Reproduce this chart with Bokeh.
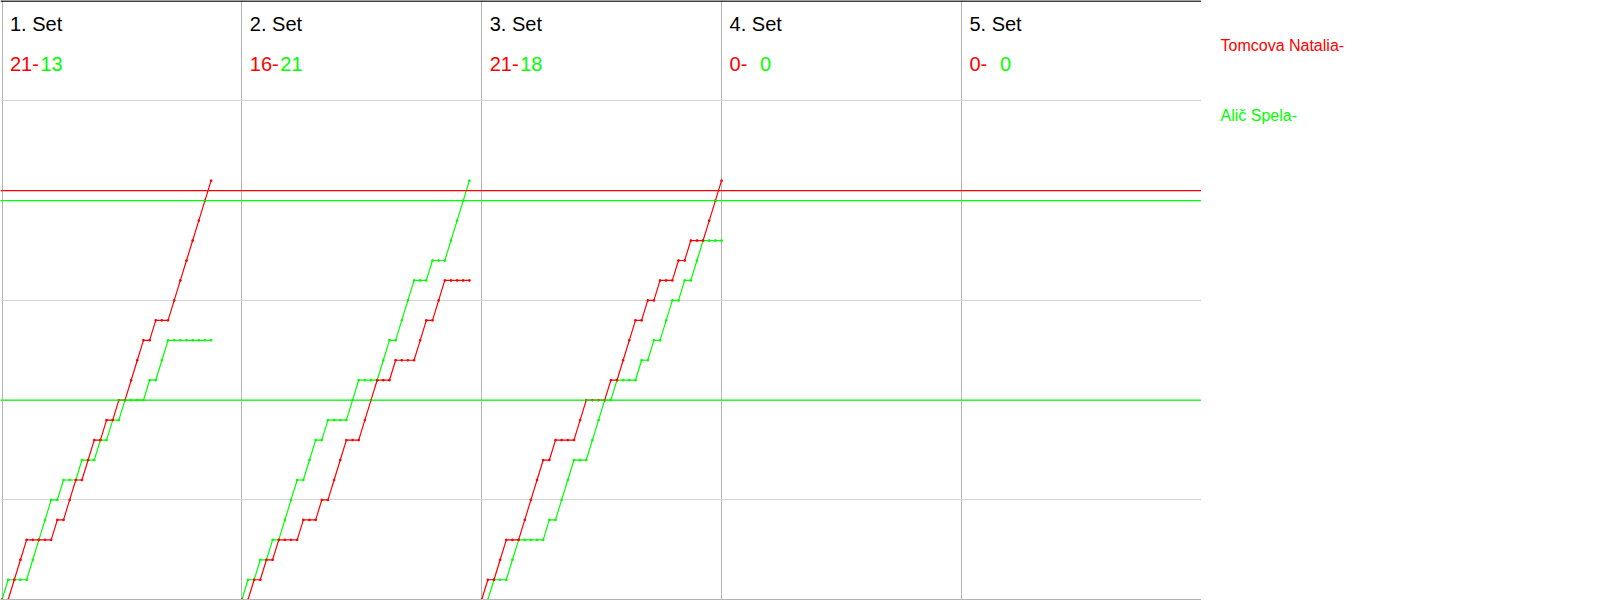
from bokeh.plotting import figure
from bokeh.layouts import row
from bokeh.models import FixedTicker, Span, ColumnDataSource, Range1d
from bokeh.embed import file_html
from bokeh.resources import INLINE
from bokeh.core.properties import value

# ---------------- data ----------------
players = ["Tomcova Natalia", "Alič Spela"]
player_colors = ["#ff0000", "#00ff00"]
set_titles = ["1. Set", "2. Set", "3. Set", "4. Set", "5. Set"]
final_red = [21, 16, 21, 0, 0]
final_green = [13, 21, 18, 0, 0]

# running score after each rally (index 0 = start of set)
set1_red = [0, 0, 1, 2, 3, 3, 3, 3, 3, 4, 4, 5, 6, 6, 7, 8, 8, 9, 9, 10, 10, 11, 12, 13, 13, 14, 14, 14,
            15, 16, 17, 18, 19, 20, 21]
set1_green = [0, 1, 1, 1, 1, 2, 3, 4, 5, 5, 6, 6, 6, 7, 7, 7, 8, 8, 9, 9, 10, 10, 10, 10, 11, 11, 12, 13,
              13, 13, 13, 13, 13, 13, 13]
set2_red = [0, 0, 1, 1, 2, 2, 3, 3, 3, 3, 4, 4, 4, 5, 5, 6, 7, 8, 8, 8, 9, 10, 11, 11, 11, 12, 12, 12, 12,
            13, 14, 14, 15, 16, 16, 16, 16, 16]
set2_green = [0, 1, 1, 2, 2, 3, 3, 4, 5, 6, 6, 7, 8, 8, 9, 9, 9, 9, 10, 11, 11, 11, 11, 12, 13, 13, 14, 15,
              16, 16, 16, 17, 17, 17, 18, 19, 20, 21]
set3_red = [0, 1, 1, 2, 3, 3, 3, 4, 5, 6, 7, 7, 8, 8, 8, 8, 9, 10, 10, 10, 10, 11, 11, 12, 13, 14, 14, 15,
            15, 16, 16, 16, 17, 17, 18, 18, 18, 19, 20, 21]
set3_green = [0, 0, 1, 1, 1, 2, 3, 3, 3, 3, 3, 4, 4, 5, 6, 7, 7, 7, 8, 9, 10, 10, 11, 11, 11, 11, 12, 12,
              13, 13, 14, 15, 15, 16, 16, 17, 18, 18, 18, 18]
red_runs = [set1_red, set2_red, set3_red, [], []]
green_runs = [set1_green, set2_green, set3_green, [], []]

rallies_per_panel = 39
score_max = 30
grid_scores = [5, 10, 15, 20, 25]
ref_levels = [20.5, 20, 10]
ref_colors = ["#ff0000", "#00ff00", "#00ff00"]

# ---------------- layout ----------------
W, H = 1201, 600
LEG_W = 395
n_sets = len(set_titles)
PX_RALLY = 6.15
LEFT_PX = 1.5
x0 = -LEFT_PX / PX_RALLY
x1 = x0 + W / PX_RALLY
y0, y1 = -0.04, score_max + 0.03
px_per_pt = H / (y1 - y0)

p = figure(width=W, height=H, x_range=Range1d(x0, x1), y_range=Range1d(y0, y1),
           output_backend="svg", toolbar_location=None, min_border=0,
           background_fill_color="white", border_fill_color="white")
p.axis.visible = False
p.outline_line_color = None
p.xgrid.ticker = FixedTicker(ticks=[i * rallies_per_panel for i in range(n_sets + 1)])
p.xgrid.grid_line_color = "#b4b4b4"
p.xgrid.grid_line_width = 1
p.ygrid.ticker = FixedTicker(ticks=grid_scores)
p.ygrid.grid_line_color = "#d4d4d4"
p.ygrid.grid_line_width = 1

p.add_layout(Span(location=score_max, dimension="width", line_color="black", line_width=1.5))
p.add_layout(Span(location=0, dimension="width", line_color="#b4b4b4", line_width=1.5))

for lvl, c in zip(ref_levels, ref_colors):
    p.add_layout(Span(location=lvl, dimension="width", line_color=c, line_width=1.3))

for k in range(n_sets):
    off = k * rallies_per_panel
    for runs, c in ((green_runs, player_colors[1]), (red_runs, player_colors[0])):
        ys = runs[k]
        if not ys:
            continue
        xs = [off + i for i in range(len(ys))]
        p.line(xs, ys, line_color=c, line_width=1.2)
        p.scatter(xs, ys, marker="square", size=1.5, color=c)

# titles and scores
def ydata(px_from_top):
    return y1 - px_from_top / px_per_pt

panel_x = [k * rallies_per_panel for k in range(n_sets)]
title_src = ColumnDataSource(dict(x=panel_x, y=[ydata(23)] * n_sets, t=set_titles))
p.text("x", "y", text="t", source=title_src, x_offset=8, text_color="black",
       text_font=value("Liberation Sans"), text_font_size="20px", text_baseline="alphabetic")
red_src = ColumnDataSource(dict(x=panel_x, y=[ydata(63)] * n_sets, t=[f"{r}-" for r in final_red]))
p.text("x", "y", text="t", source=red_src, x_offset=8, text_color=player_colors[0],
       text_font=value("Liberation Sans"), text_font_size="20px", text_baseline="alphabetic")
green_src = ColumnDataSource(dict(x=panel_x, y=[ydata(63)] * n_sets, t=[str(g) for g in final_green]))
p.text("x", "y", text="t", source=green_src, x_offset=38.5, text_color=player_colors[1],
       text_font=value("Liberation Sans"), text_font_size="20px", text_baseline="alphabetic")

# legend panel
leg = figure(width=LEG_W, height=H, x_range=Range1d(0, LEG_W), y_range=Range1d(0, H),
             output_backend="svg", toolbar_location=None, min_border=0)
leg.axis.visible = False
leg.grid.visible = False
leg.outline_line_color = None
leg_src = ColumnDataSource(dict(x=[19, 19], y=[H - 45, H - 115], t=[n + "-" for n in players],
                                c=player_colors))
leg.text("x", "y", text="t", source=leg_src, text_color="c", text_font=value("Liberation Sans"),
         text_font_size="16px", text_baseline="alphabetic")

layout = row(p, leg, spacing=0)
open("out.html", "w").write(file_html(layout, INLINE))
